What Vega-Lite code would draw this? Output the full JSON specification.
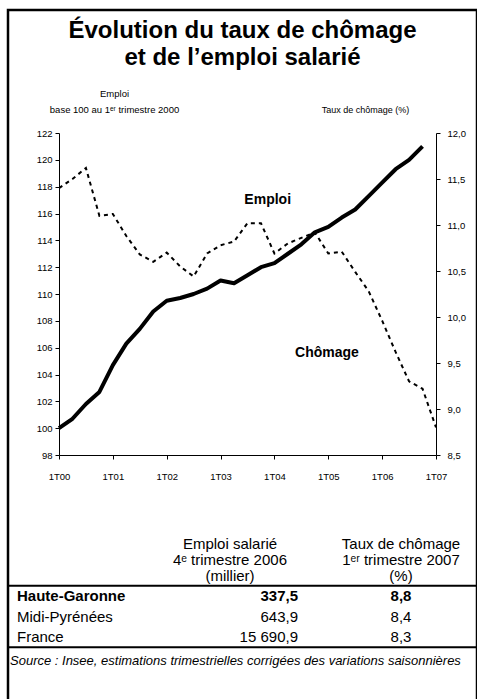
{
  "$schema": "https://vega.github.io/schema/vega-lite/v6.json",
  "width": 469,
  "height": 700,
  "autosize": "none",
  "padding": {"left": 8, "top": 10, "right": 0, "bottom": 0},
  "background": "white",
  "config": {
    "locale": {"number": {"decimal": ",", "thousands": " ", "grouping": [3], "currency": ["", " €"]}},
    "view": {"stroke": "black", "strokeWidth": 2.5},
    "font": "Liberation Sans",
    "axis": {"labelFont": "Liberation Sans", "titleFont": "Liberation Sans", "labelColor": "black", "titleColor": "black", "domainColor": "black", "tickColor": "black", "grid": false, "labelFontSize": 9.5, "titleFontSize": 9, "titleFontWeight": "normal"},
    "text": {"color": "black"}
  },
  "title": {
    "text": ["Évolution du taux de chômage", "et de l’emploi salarié"],
    "font": "Liberation Sans", "fontSize": 24, "fontWeight": "bold", "color": "black",
    "anchor": "middle", "frame": "group", "orient": "top", "baseline": "top", "offset": -12, "lineHeight": 27, "dy": 48
  },
  "datasets": {
    "emploi": [
      {"q": 0, "emploi": 100.0}, {"q": 1, "emploi": 100.7}, {"q": 2, "emploi": 101.8}, {"q": 3, "emploi": 102.7},
      {"q": 4, "emploi": 104.7}, {"q": 5, "emploi": 106.3}, {"q": 6, "emploi": 107.4}, {"q": 7, "emploi": 108.7},
      {"q": 8, "emploi": 109.5}, {"q": 9, "emploi": 109.7}, {"q": 10, "emploi": 110.0}, {"q": 11, "emploi": 110.4},
      {"q": 12, "emploi": 111.0}, {"q": 13, "emploi": 110.8}, {"q": 14, "emploi": 111.4}, {"q": 15, "emploi": 112.0},
      {"q": 16, "emploi": 112.3}, {"q": 17, "emploi": 113.0}, {"q": 18, "emploi": 113.7}, {"q": 19, "emploi": 114.6},
      {"q": 20, "emploi": 115.0}, {"q": 21, "emploi": 115.7}, {"q": 22, "emploi": 116.3}, {"q": 23, "emploi": 117.3},
      {"q": 24, "emploi": 118.3}, {"q": 25, "emploi": 119.3}, {"q": 26, "emploi": 120.0}, {"q": 27, "emploi": 121.0}
    ],
    "chomage": [
      {"q": 0, "chomage": 11.40}, {"q": 1, "chomage": 11.50}, {"q": 2, "chomage": 11.62}, {"q": 3, "chomage": 11.10},
      {"q": 4, "chomage": 11.12}, {"q": 5, "chomage": 10.88}, {"q": 6, "chomage": 10.68}, {"q": 7, "chomage": 10.60},
      {"q": 8, "chomage": 10.70}, {"q": 9, "chomage": 10.55}, {"q": 10, "chomage": 10.44}, {"q": 11, "chomage": 10.69},
      {"q": 12, "chomage": 10.78}, {"q": 13, "chomage": 10.82}, {"q": 14, "chomage": 11.02}, {"q": 15, "chomage": 11.02},
      {"q": 16, "chomage": 10.69}, {"q": 17, "chomage": 10.80}, {"q": 18, "chomage": 10.86}, {"q": 19, "chomage": 10.92},
      {"q": 20, "chomage": 10.69}, {"q": 21, "chomage": 10.71}, {"q": 22, "chomage": 10.49}, {"q": 23, "chomage": 10.28},
      {"q": 24, "chomage": 9.96}, {"q": 25, "chomage": 9.62}, {"q": 26, "chomage": 9.30}, {"q": 27, "chomage": 9.22},
      {"q": 28, "chomage": 8.80}
    ],
    "labels": [
      {"label": "Emploi", "q": 15.5, "v": 117.0},
      {"label": "Chômage", "q": 19.9, "v": 105.6}
    ],
    "table": [
      {"zone": "Haute-Garonne", "emploi": 337.5, "taux": 8.8, "bold": true},
      {"zone": "Midi-Pyrénées", "emploi": 643.9, "taux": 8.4, "bold": false},
      {"zone": "France", "emploi": 15690.9, "taux": 8.3, "bold": false}
    ],
    "header": [
      {"col": "emploi", "text": "Emploi salarié\n4ᵉ trimestre 2006\n(millier)"},
      {"col": "taux", "text": "Taux de chômage\n1ᵉʳ trimestre 2007\n(%)"}
    ],
    "rules": [{"r": "Haute-Garonne"}, {"r": "source"}],
    "source": [{"row": "source", "text": "Source : Insee, estimations trimestrielles corrigées des variations saisonnières"}]
  },
  "layer": [
    {
      "layer": [
        {
          "data": {"name": "emploi"},
          "mark": {"type": "line", "color": "black", "strokeWidth": 4, "strokeJoin": "round"},
          "encoding": {
            "x": {"field": "q", "type": "quantitative",
              "scale": {"domain": [0, 28], "range": [51, 428], "nice": false, "zero": false},
              "axis": {"orient": "bottom", "offset": -255, "values": [0,1,2,3,4,5,6,7,8,9,10,11,12,13,14,15,16,17,18,19,20,21,22,23,24,25,26,27,28],
                "labelExpr": "datum.value % 4 === 0 ? '1T0' + (datum.value / 4) : ''",
                "tickSize": 4, "labelPadding": 12, "labelOverlap": false, "labelFlush": false, "title": null}},
            "y": {"field": "emploi", "type": "quantitative",
              "scale": {"domain": [98, 122], "range": [445, 123], "nice": false, "zero": false},
              "axis": {"orient": "left", "offset": -51, "values": [98,100,102,104,106,108,110,112,114,116,118,120,122],
                "format": "d", "tickSize": 4, "labelPadding": 3,
                "title": ["Emploi", "base 100 au 1ᵉʳ trimestre 2000"], "titleAngle": 0, "titleX": 55, "titleY": 83,
                "titleAlign": "center", "titleBaseline": "middle", "titleLineHeight": 16, "titleFontSize": 9.5}}
          }
        },
        {
          "data": {"name": "labels"},
          "mark": {"type": "text", "fontWeight": "bold", "fontSize": 14, "font": "Liberation Sans"},
          "encoding": {
            "x": {"field": "q", "type": "quantitative"},
            "y": {"field": "v", "type": "quantitative"},
            "text": {"field": "label", "type": "nominal"}
          }
        }
      ]
    },
    {
      "data": {"name": "chomage"},
      "mark": {"type": "line", "color": "black", "strokeWidth": 2, "strokeDash": [4, 4]},
      "encoding": {
        "x": {"field": "q", "type": "quantitative", "scale": {"domain": [0, 28], "range": [51, 428], "nice": false, "zero": false}, "axis": null},
        "y": {"field": "chomage", "type": "quantitative",
          "scale": {"domain": [8.5, 12], "range": [445, 123], "nice": false, "zero": false},
          "axis": {"orient": "right", "offset": -41, "values": [8.5, 9, 9.5, 10, 10.5, 11, 11.5, 12],
            "format": ".1f", "tickSize": 4, "labelPadding": 7,
            "title": "Taux de chômage (%)", "titleAngle": 0, "titleX": -71, "titleY": 99,
            "titleAlign": "center", "titleBaseline": "middle"}}
      }
    },
    {
      "layer": [
        {
          "data": {"name": "rules"},
          "mark": {"type": "rule", "color": "black", "strokeWidth": 2},
          "encoding": {
            "y": {"field": "r", "type": "nominal", "bandPosition": 0, "scale": {"type": "band", "domain": ["header", "Haute-Garonne", "Midi-Pyrénées", "France", "source"], "range": [555.25, 657.75], "paddingInner": 0, "paddingOuter": 0}, "axis": null}
          }
        },
        {
          "data": {"name": "header"},
          "transform": [{"filter": "datum.col === 'emploi'"}],
          "mark": {"type": "text", "lineBreak": "\n", "fontSize": 15, "lineHeight": 16, "align": "center", "baseline": "middle", "dy": -32, "dx": 21},
          "encoding": {
            "x": {"field": "col", "type": "nominal", "scale": {"type": "point", "domain": ["zone", "emploi", "taux"], "range": [9, 393], "padding": 0}, "axis": null},
            "y": {"datum": "header", "type": "nominal", "scale": {"type": "band", "domain": ["header", "Haute-Garonne", "Midi-Pyrénées", "France", "source"], "range": [555.25, 657.75], "paddingInner": 0, "paddingOuter": 0}, "axis": null},
            "text": {"field": "text", "type": "nominal"}
          }
        },
        {
          "data": {"name": "header"},
          "transform": [{"filter": "datum.col === 'taux'"}],
          "mark": {"type": "text", "lineBreak": "\n", "fontSize": 15, "lineHeight": 16, "align": "center", "baseline": "middle", "dy": -32},
          "encoding": {
            "x": {"field": "col", "type": "nominal", "scale": {"type": "point", "domain": ["zone", "emploi", "taux"], "range": [9, 393], "padding": 0}, "axis": null},
            "y": {"datum": "header", "type": "nominal", "scale": {"type": "band", "domain": ["header", "Haute-Garonne", "Midi-Pyrénées", "France", "source"], "range": [555.25, 657.75], "paddingInner": 0, "paddingOuter": 0}, "axis": null},
            "text": {"field": "text", "type": "nominal"}
          }
        },
        {
          "data": {"name": "table"},
          "transform": [{"filter": "datum.bold"}],
          "mark": {"type": "text", "align": "left", "fontSize": 15, "fontWeight": "bold"},
          "encoding": {
            "x": {"datum": "zone", "type": "nominal", "scale": {"type": "point", "domain": ["zone", "emploi", "taux"], "range": [9, 393], "padding": 0}, "axis": null},
            "y": {"field": "zone", "type": "nominal", "scale": {"type": "band", "domain": ["header", "Haute-Garonne", "Midi-Pyrénées", "France", "source"], "range": [555.25, 657.75], "paddingInner": 0, "paddingOuter": 0}, "axis": null},
            "text": {"field": "zone", "type": "nominal"}
          }
        },
        {
          "data": {"name": "table"},
          "transform": [{"filter": "datum.bold"}],
          "mark": {"type": "text", "align": "right", "fontSize": 15, "fontWeight": "bold", "dx": 89},
          "encoding": {
            "x": {"datum": "emploi", "type": "nominal", "scale": {"type": "point", "domain": ["zone", "emploi", "taux"], "range": [9, 393], "padding": 0}, "axis": null},
            "y": {"field": "zone", "type": "nominal", "scale": {"type": "band", "domain": ["header", "Haute-Garonne", "Midi-Pyrénées", "France", "source"], "range": [555.25, 657.75], "paddingInner": 0, "paddingOuter": 0}, "axis": null},
            "text": {"field": "emploi", "type": "quantitative", "format": ",.1f"}
          }
        },
        {
          "data": {"name": "table"},
          "transform": [{"filter": "datum.bold"}],
          "mark": {"type": "text", "align": "center", "fontSize": 15, "fontWeight": "bold"},
          "encoding": {
            "x": {"datum": "taux", "type": "nominal", "scale": {"type": "point", "domain": ["zone", "emploi", "taux"], "range": [9, 393], "padding": 0}, "axis": null},
            "y": {"field": "zone", "type": "nominal", "scale": {"type": "band", "domain": ["header", "Haute-Garonne", "Midi-Pyrénées", "France", "source"], "range": [555.25, 657.75], "paddingInner": 0, "paddingOuter": 0}, "axis": null},
            "text": {"field": "taux", "type": "quantitative", "format": ".1f"}
          }
        },
        {
          "data": {"name": "table"},
          "transform": [{"filter": "!datum.bold"}],
          "mark": {"type": "text", "align": "left", "fontSize": 15},
          "encoding": {
            "x": {"datum": "zone", "type": "nominal", "scale": {"type": "point", "domain": ["zone", "emploi", "taux"], "range": [9, 393], "padding": 0}, "axis": null},
            "y": {"field": "zone", "type": "nominal", "scale": {"type": "band", "domain": ["header", "Haute-Garonne", "Midi-Pyrénées", "France", "source"], "range": [555.25, 657.75], "paddingInner": 0, "paddingOuter": 0}, "axis": null},
            "text": {"field": "zone", "type": "nominal"}
          }
        },
        {
          "data": {"name": "table"},
          "transform": [{"filter": "!datum.bold"}],
          "mark": {"type": "text", "align": "right", "fontSize": 15, "dx": 89},
          "encoding": {
            "x": {"datum": "emploi", "type": "nominal", "scale": {"type": "point", "domain": ["zone", "emploi", "taux"], "range": [9, 393], "padding": 0}, "axis": null},
            "y": {"field": "zone", "type": "nominal", "scale": {"type": "band", "domain": ["header", "Haute-Garonne", "Midi-Pyrénées", "France", "source"], "range": [555.25, 657.75], "paddingInner": 0, "paddingOuter": 0}, "axis": null},
            "text": {"field": "emploi", "type": "quantitative", "format": ",.1f"}
          }
        },
        {
          "data": {"name": "table"},
          "transform": [{"filter": "!datum.bold"}],
          "mark": {"type": "text", "align": "center", "fontSize": 15},
          "encoding": {
            "x": {"datum": "taux", "type": "nominal", "scale": {"type": "point", "domain": ["zone", "emploi", "taux"], "range": [9, 393], "padding": 0}, "axis": null},
            "y": {"field": "zone", "type": "nominal", "scale": {"type": "band", "domain": ["header", "Haute-Garonne", "Midi-Pyrénées", "France", "source"], "range": [555.25, 657.75], "paddingInner": 0, "paddingOuter": 0}, "axis": null},
            "text": {"field": "taux", "type": "quantitative", "format": ".1f"}
          }
        },
        {
          "data": {"name": "source"},
          "mark": {"type": "text", "align": "left", "fontSize": 13, "fontStyle": "italic", "dx": -7, "dy": 3},
          "encoding": {
            "x": {"datum": "zone", "type": "nominal", "scale": {"type": "point", "domain": ["zone", "emploi", "taux"], "range": [9, 393], "padding": 0}, "axis": null},
            "y": {"field": "row", "type": "nominal", "scale": {"type": "band", "domain": ["header", "Haute-Garonne", "Midi-Pyrénées", "France", "source"], "range": [555.25, 657.75], "paddingInner": 0, "paddingOuter": 0}, "axis": null},
            "text": {"field": "text", "type": "nominal"}
          }
        }
      ]
    }
  ],
  "resolve": {"scale": {"x": "independent", "y": "independent"}}
}
